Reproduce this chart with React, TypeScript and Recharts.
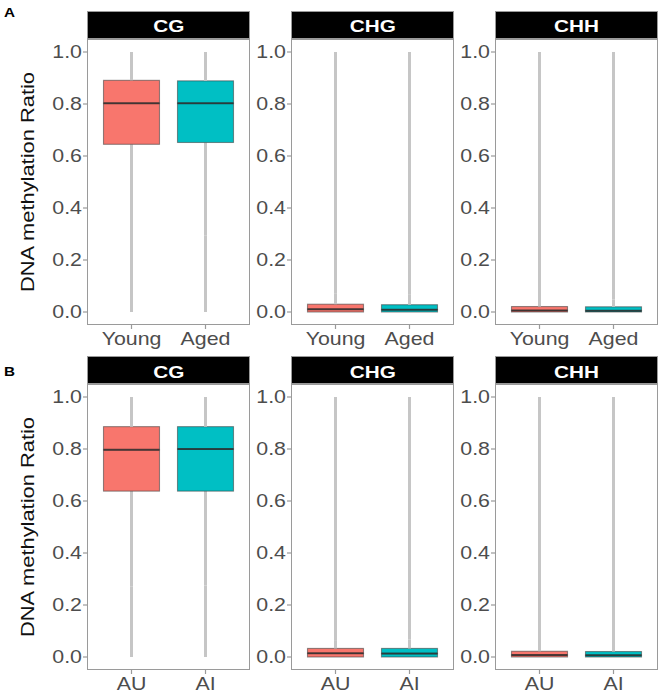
import React from 'react';
import { ComposedChart, Bar, XAxis, YAxis } from 'recharts';

// ---------- data ----------
const CONTEXTS = ['CG', 'CHG', 'CHH'];
const GROUPS_A = ['Young', 'Aged'];
const GROUPS_B = ['AU', 'AI'];
const Y_TICKS = [0, 0.2, 0.4, 0.6, 0.8, 1.0];

// each array: [CG, CHG, CHH] x [group 1, group 2]
const A_MIN = [[0, 0], [0, 0], [0, 0]];
const A_WHISKER_LO = [[0.285, 0.295], [0, 0], [0, 0]];
const A_Q1 = [[0.645, 0.652], [0, 0], [0, 0]];
const A_MEDIAN = [[0.803, 0.803], [0.011, 0.009], [0.006, 0.005]];
const A_Q3 = [[0.891, 0.889], [0.03, 0.028], [0.021, 0.02]];
const A_WHISKER_HI = [[1, 1], [0.07, 0.066], [0.05, 0.048]];
const A_MAX = [[1, 1], [1, 1], [1, 1]];

const B_MIN = [[0, 0], [0, 0], [0, 0]];
const B_WHISKER_LO = [[0.27, 0.275], [0, 0], [0, 0]];
const B_Q1 = [[0.638, 0.638], [0, 0], [0, 0]];
const B_MEDIAN = [[0.797, 0.8], [0.014, 0.013], [0.008, 0.007]];
const B_Q3 = [[0.886, 0.886], [0.033, 0.033], [0.022, 0.021]];
const B_WHISKER_HI = [[1, 1], [0.065, 0.068], [0.05, 0.05]];
const B_MAX = [[1, 1], [1, 1], [1, 1]];

// ---------- styles ----------
const FILLS = ['#F8766D', '#00BFC4'];
const WHISKER = '#c6c6c6';
const FONT = '"Liberation Sans", Arial, Helvetica, sans-serif';
const STRETCH = 1.22;

const PANEL_LEFT = [87, 291, 495];
const PANEL_W = 163;
const PANEL_H = 286;
const Y_AXIS_W = [87, 50, 50];
const X_AXIS_H = 36;
const ROWS = [
  { stripTop: 11, panelTop: 38.6, letter: 'A', letterTop: 18 },
  { stripTop: 356.3, panelTop: 383.8, letter: 'B', letterTop: 377 },
];

type Stats = number[][];
function buildRows(groups: string[], c: number, mn: Stats, wlo: Stats, q1: Stats, med: Stats, q3: Stats, whi: Stats, mx: Stats) {
  return groups.map((g, i) => ({
    name: g,
    idx: i,
    base: mn[c][i],
    outLo: wlo[c][i] - mn[c][i],
    wLo: q1[c][i] - wlo[c][i],
    bLo: med[c][i] - q1[c][i],
    bHi: q3[c][i] - med[c][i],
    wHi: whi[c][i] - q3[c][i],
    outHi: mx[c][i] - whi[c][i],
  }));
}

// ---------- shapes ----------
const lineShape = (color: string) => (props: any) => {
  const { x, y, width, height } = props;
  if (!height || height <= 0) return <g />;
  const cx = x + width / 2;
  return <line x1={cx} x2={cx} y1={y} y2={y + height} stroke={color} strokeWidth={3} />;
};

const BoxLow = (props: any) => {
  const { x, y, width, height, payload } = props;
  const h = Math.max(0, height || 0);
  return (
    <rect x={x} y={y} width={width} height={h} fill={FILLS[payload?.idx ?? 0]}
      stroke="#3a3a3a" strokeOpacity={0.55} strokeWidth={1.1} />
  );
};

const BoxHigh = (props: any) => {
  const { x, y, width, height, payload } = props;
  const h = Math.max(0, height || 0);
  return (
    <g>
      <rect x={x} y={y} width={width} height={h} fill={FILLS[payload?.idx ?? 0]}
        stroke="#3a3a3a" strokeOpacity={0.55} strokeWidth={1.1} />
      <line x1={x} x2={x + width} y1={y + h} y2={y + h} stroke="#2a2a2a" strokeOpacity={0.75} strokeWidth={2} />
    </g>
  );
};

const Empty = () => <g />;

// ---------- ticks & labels ----------
const YTick = (props: any) => {
  const { x, y, payload } = props;
  return (
    <g transform={`translate(${x},${y})`}>
      <text transform={`scale(${STRETCH},1)`} textAnchor="end" dy="0.36em" fill="#4d4d4d"
        fontSize={17.5} fontFamily={FONT}>
        {Number(payload.value).toFixed(1)}
      </text>
    </g>
  );
};

const XTick = (props: any) => {
  const { x, y, payload } = props;
  return (
    <g transform={`translate(${x},${y})`}>
      <text transform={`scale(${STRETCH},1)`} textAnchor="middle" dy={14} fill="#4d4d4d"
        fontSize={17.5} fontFamily={FONT}>
        {payload.value}
      </text>
    </g>
  );
};

const YLabel = (props: any) => {
  const vb = props.viewBox || { x: 0, y: 0, width: 0, height: PANEL_H };
  const cx = (vb.x ?? 0) + 33.5;
  const cy = (vb.y ?? 0) + (vb.height ?? PANEL_H) / 2;
  return (
    <text transform={`translate(${cx},${cy}) rotate(-90) scale(1.25,1)`} textAnchor="middle"
      fill="#111" fontSize={17.5} fontFamily={FONT}>
      DNA methylation Ratio
    </text>
  );
};

// ---------- panel ----------
function Panel({ data, col, top }: { data: any[]; col: number; top: number }) {
  const yw = Y_AXIS_W[col];
  return (
    <div style={{ position: 'absolute', left: PANEL_LEFT[col] - yw, top }}>
      <ComposedChart width={yw + PANEL_W} height={PANEL_H + X_AXIS_H} data={data}
        margin={{ top: 0, right: 0, bottom: 0, left: 0 }} barSize={56}>
        <XAxis dataKey="name" type="category" height={X_AXIS_H} padding={{ left: 7.5, right: 7.5 }}
          axisLine={false} tickLine={{ stroke: '#9a9a9a', strokeWidth: 1.2 }} tickSize={4} tickMargin={2}
          tick={<XTick />} interval={0} />
        <YAxis type="number" domain={[-0.05, 1.05]} ticks={Y_TICKS} width={yw} allowDataOverflow
          axisLine={false} tickLine={{ stroke: '#9a9a9a', strokeWidth: 1.2 }} tickSize={4} tickMargin={1}
          tick={<YTick />} label={col === 0 ? { content: YLabel } : undefined} />
        <Bar dataKey="base" stackId="s" shape={Empty} isAnimationActive={false} />
        <Bar dataKey="outLo" stackId="s" shape={lineShape(WHISKER)} isAnimationActive={false} />
        <Bar dataKey="wLo" stackId="s" shape={lineShape(WHISKER)} isAnimationActive={false} />
        <Bar dataKey="bLo" stackId="s" shape={BoxLow} isAnimationActive={false} />
        <Bar dataKey="bHi" stackId="s" shape={BoxHigh} isAnimationActive={false} />
        <Bar dataKey="wHi" stackId="s" shape={lineShape(WHISKER)} isAnimationActive={false} />
        <Bar dataKey="outHi" stackId="s" shape={lineShape(WHISKER)} isAnimationActive={false} />
      </ComposedChart>
    </div>
  );
}

export default function App() {
  const rowData = [
    CONTEXTS.map((_, c) => buildRows(GROUPS_A, c, A_MIN, A_WHISKER_LO, A_Q1, A_MEDIAN, A_Q3, A_WHISKER_HI, A_MAX)),
    CONTEXTS.map((_, c) => buildRows(GROUPS_B, c, B_MIN, B_WHISKER_LO, B_Q1, B_MEDIAN, B_Q3, B_WHISKER_HI, B_MAX)),
  ];
  return (
    <div style={{ position: 'absolute', left: 0, top: 0, width: 664, height: 700, background: '#fff', fontFamily: FONT }}>
      {ROWS.map((row, r) => (
        <React.Fragment key={r}>
          <div style={{ position: 'absolute', left: 4, top: row.letterTop - 10, fontSize: 12.5, fontWeight: 700,
            color: '#000', lineHeight: '11px', transform: `scaleX(${STRETCH})`, transformOrigin: 'left' }}>
            {row.letter}
          </div>
          {CONTEXTS.map((ctx, c) => (
            <React.Fragment key={ctx}>
              <Panel data={rowData[r][c]} col={c} top={row.panelTop} />
              <div style={{ position: 'absolute', left: PANEL_LEFT[c], top: row.stripTop, width: PANEL_W,
                height: row.panelTop - row.stripTop, background: '#000', border: '1.3px solid #9a9a9a',
                boxSizing: 'border-box', display: 'flex', alignItems: 'center', justifyContent: 'center' }}>
                <span style={{ color: '#fff', fontWeight: 700, fontSize: 17, lineHeight: '17px',
                  transform: `scaleX(${STRETCH}) translateY(1.5px)`, display: 'inline-block' }}>{ctx}</span>
              </div>
              <div style={{ position: 'absolute', left: PANEL_LEFT[c], top: row.panelTop, width: PANEL_W,
                height: PANEL_H, border: '1.3px solid #9a9a9a', boxSizing: 'border-box', pointerEvents: 'none' }} />
            </React.Fragment>
          ))}
        </React.Fragment>
      ))}
    </div>
  );
}
